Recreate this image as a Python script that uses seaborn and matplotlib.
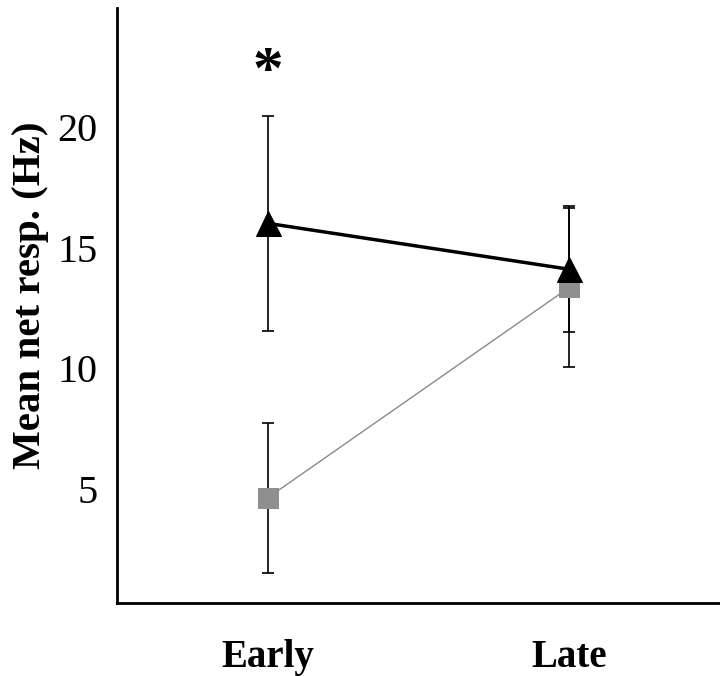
import pandas as pd
import matplotlib
matplotlib.use("Agg")
import matplotlib.pyplot as plt
import seaborn as sns

# valores
fases = ['Early', 'Late']
triangulo_media = [16.0, 14.1]
triangulo_erro = [4.45, 2.6]
quadrado_media = [4.65, 13.35]
quadrado_erro = [3.1, 3.3]
yticks = [5, 10, 15, 20]

df = pd.DataFrame({
    'pos': [0, 1],
    'fase': fases,
    'tri': triangulo_media,
    'tri_err': triangulo_erro,
    'quad': quadrado_media,
    'quad_err': quadrado_erro,
})

sns.set_style("white")
plt.rcParams['font.family'] = ['Liberation Serif', 'DejaVu Serif']
plt.rcParams['text.color'] = 'black'
plt.rcParams['xtick.color'] = 'black'
plt.rcParams['ytick.color'] = 'black'
plt.rcParams['axes.labelcolor'] = 'black'

fig = plt.figure(figsize=(7.2, 6.76), dpi=100)
ax = fig.add_axes([0.1625, 0.108, 0.8375, 0.88])

# barras de erro
ax.errorbar(df['pos'], df['quad'], yerr=df['quad_err'], fmt='none',
            ecolor='black', elinewidth=1.2, capsize=4.5, capthick=1.2, zorder=1)
ax.errorbar(df['pos'], df['tri'], yerr=df['tri_err'], fmt='none',
            ecolor='black', elinewidth=1.2, capsize=4.5, capthick=1.2, zorder=1)

# linhas com marcadores
sns.lineplot(data=df, x='pos', y='quad', ax=ax, color='#8a8a8a', linewidth=1,
             marker='s', markersize=14, markerfacecolor='#8f8f8f',
             markeredgecolor='#8f8f8f', zorder=2)
sns.lineplot(data=df, x='pos', y='tri', ax=ax, color='black', linewidth=2.5,
             marker='^', markersize=18, markerfacecolor='black',
             markeredgecolor='black', zorder=3)

ax.text(0, 22.2, '*', ha='center', va='center', fontsize=44, fontweight='bold')

ax.set_xlim(-0.5, 1.5)
ax.set_ylim(0.3, 24.9)
ax.set_xticks([0, 1])
ax.set_xticklabels(fases, fontsize=28, fontweight='bold')
ax.set_yticks(yticks)
ax.set_yticklabels([str(t) for t in yticks], fontsize=29)
ax.tick_params(axis='both', length=0)
ax.tick_params(axis='y', pad=14)
ax.tick_params(axis='x', pad=26)
ax.set_xlabel('')
ax.set_ylabel('Mean net resp. (Hz)', fontsize=29.5, fontweight='bold')
ax.yaxis.set_label_coords(-0.112, 0.518)

for lado in ['top', 'right']:
    ax.spines[lado].set_visible(False)
for lado in ['left', 'bottom']:
    ax.spines[lado].set_color('black')
    ax.spines[lado].set_linewidth(2)

fig.savefig('out.png', dpi=100, facecolor='white')
